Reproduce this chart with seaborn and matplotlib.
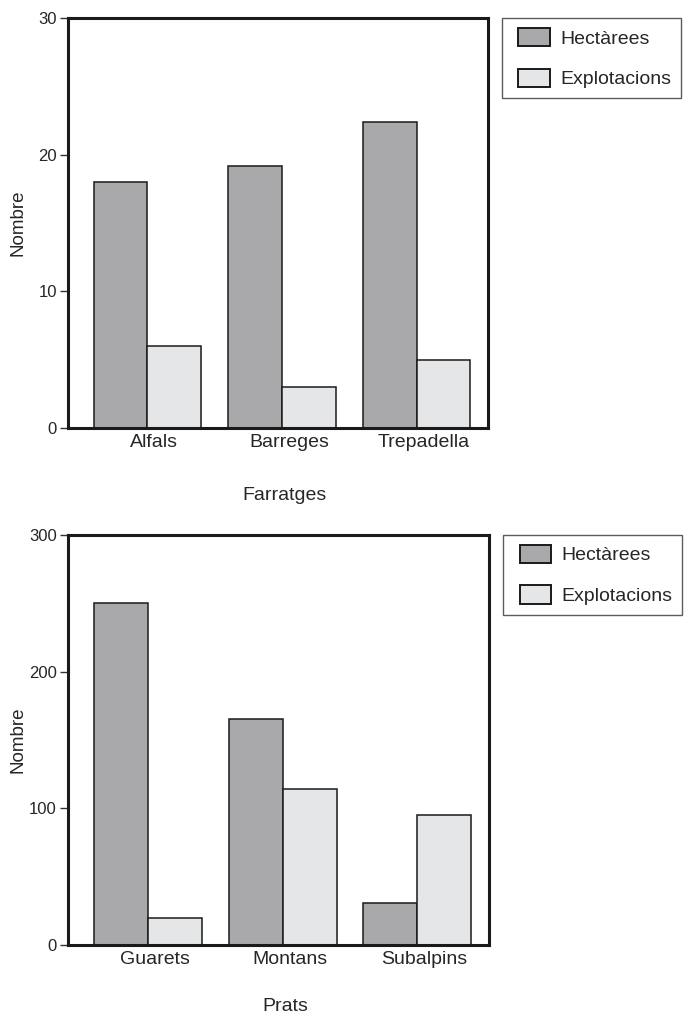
import pandas as pd
import seaborn as sns
import matplotlib.pyplot as plt
import matplotlib.transforms as mtransforms
from matplotlib.patches import Rectangle
from matplotlib.legend_handler import HandlerPatch

# Dades
farratges = ['Alfals', 'Barreges', 'Trepadella']
farratges_hect = [18, 19.2, 22.4]
farratges_expl = [6, 3, 5]

prats = ['Guarets', 'Montans', 'Subalpins']
prats_hect = [250, 165, 30.5]
prats_expl = [20, 114, 95]

series = ['Hectàrees', 'Explotacions']
colors = ['#a8a9ad', '#e5e6e8']

sns.set_style('white')
plt.rcParams['font.family'] = ['Liberation Sans', 'DejaVu Sans']


def to_long(cats, hect, expl):
    return pd.DataFrame({
        'cat': cats * 2,
        'serie': [series[0]] * len(cats) + [series[1]] * len(cats),
        'valor': list(hect) + list(expl),
    })


# quadre de llegenda amb una mica de marge a l'esquerra
def box_handle(legend, orig_handle, xdescent, ydescent, width, height, fontsize):
    off = 5
    return Rectangle((-xdescent + off, -ydescent), width - off, height)


fig = plt.figure(figsize=(6.86, 10.15), dpi=100)
ax1 = fig.add_axes([0.0991, 0.5783, 0.6122, 0.404])
ax2 = fig.add_axes([0.0991, 0.069, 0.6137, 0.404])

panels = [
    (ax1, to_long(farratges, farratges_hect, farratges_expl), 'Farratges', 26, 30, [0, 10, 20, 30]),
    (ax2, to_long(prats, prats_hect, prats_expl), 'Prats', 22, 300, [0, 100, 200, 300]),
]

shift = mtransforms.ScaledTranslation(7 / 100, 0, fig.dpi_scale_trans)

for ax, df, xlabel, pad, ymax, yticks in panels:
    sns.barplot(data=df, x='cat', y='valor', hue='serie', palette=colors,
                edgecolor='#1a1a1a', linewidth=1.1, width=0.8, ax=ax)
    ax.set_xlim(-0.59, 2.53)
    ax.set_ylim(0, ymax)
    ax.set_yticks(yticks)
    ax.set_xlabel(xlabel, fontsize=14, labelpad=pad)
    ax.set_ylabel('Nombre', fontsize=13.5)
    ax.yaxis.set_label_coords(-0.098, 0.5)
    ax.xaxis.label.set_transform(ax.xaxis.label.get_transform() + shift)
    ax.tick_params(axis='y', length=6, width=1, color='#333333', labelsize=12, pad=2, left=True)
    ax.tick_params(axis='x', length=0, labelsize=14, pad=4)
    for lbl in ax.get_xticklabels():
        lbl.set_transform(lbl.get_transform() + shift)
    for s in ax.spines.values():
        s.set_linewidth(2.2)
        s.set_color('#1a1a1a')
    handles, labels = ax.get_legend_handles_labels()
    leg = ax.legend(handles, labels, loc='upper left', bbox_to_anchor=(1.033, 1.0),
                    frameon=True, fancybox=False, edgecolor='#333333', fontsize=14,
                    handlelength=2.0, handleheight=1.08, labelspacing=1.08,
                    borderpad=0.5, handletextpad=0.5, borderaxespad=0,
                    handler_map={h: HandlerPatch(patch_func=box_handle) for h in handles})
    leg.get_frame().set_linewidth(1)
    for h in leg.legend_handles:
        h.set_linewidth(1.4)

fig.savefig('out.png', dpi=100)
